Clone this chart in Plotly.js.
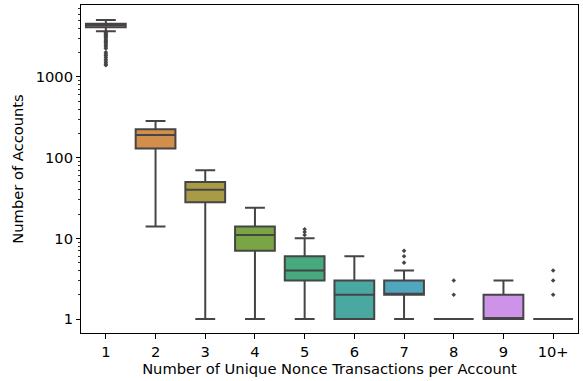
<!DOCTYPE html>
<html>
<head>
<meta charset="utf-8">
<script src="https://cdn.plot.ly/plotly-3.0.1.min.js"></script>
<style>html,body{margin:0;padding:0;background:#fff;}#chart{width:583px;height:381px;}</style>
</head>
<body>
<div id="chart"></div>
<script>
const categories = ['1','2','3','4','5','6','7','8','9','10+'];
const q1Values     = [4120, 130, 28, 7, 3, 1, 2, 1, 1, 1];
const medianValues = [4400, 191, 40, 11, 4, 2, 2, 1, 1, 1];
const q3Values     = [4560, 225, 50, 14, 6, 3, 3, 1, 2, 1];
const lowerWhisker = [3680, 14, 1, 1, 1, 1, 1, 1, 1, 1];
const upperWhisker = [5080, 285, 70, 24, 10, 6, 4, 1, 3, 1];
// outliers per category
const outlierCats = ['1','1','1','1','1','1','1','1','1','1','1','1','1','1','1','1','1','1','1','1','1','1','1','1',
                     '5','5','5','7','7','7','8','8','10+','10+','10+'];
const outlierVals = [3600,3500,3420,3330,3240,3150,3060,2960,2860,2760,2660,2560,2460,2360,2250,
                     2030,1930,1840,1750,1660,1580,1500,1440,1400,
                     11,12,13,5,6,7,2,3,2,3,4];
const colors = ['#e68294','#d28f4c','#a99a45','#7aa544','#47a97e','#49a8a0','#4fa6bd','#7fa0e3','#cd93e8','#e377c4'];

const lineColor = '#454545';
const traces = categories.map((c, i) => ({
  type: 'box',
  x: [c],
  q1: [q1Values[i]],
  median: [medianValues[i]],
  q3: [q3Values[i]],
  lowerfence: [lowerWhisker[i]],
  upperfence: [upperWhisker[i]],
  width: 0.8,
  whiskerwidth: 0.5,
  fillcolor: colors[i],
  line: {color: lineColor, width: 2},
  boxpoints: false,
  showlegend: false,
  hoverinfo: 'none'
}));
traces.push({
  type: 'scatter', mode: 'markers',
  x: outlierCats, y: outlierVals,
  marker: {symbol: 'diamond', size: 3.5, color: lineColor},
  showlegend: false, hoverinfo: 'none'
});

const minorVals = [];
[1,10,100,1000].forEach(d => { for (let k = 2; k <= 9; k++) minorVals.push(k*d); });

const font = {family: 'DejaVu Sans', size: 14.7, color: '#000'};
const layout = {
  width: 583, height: 381,
  margin: {l: 81, r: 5, t: 5, b: 48},
  paper_bgcolor: '#fff', plot_bgcolor: '#fff',
  font: font,
  xaxis: {
    type: 'category', categoryorder: 'array', categoryarray: categories,
    range: [-0.5, 9.5],
    showline: true, mirror: true, linecolor: '#000', linewidth: 1,
    ticks: 'outside', ticklen: 5, tickcolor: '#000', tickwidth: 1,
    showgrid: false, zeroline: false,
    tickfont: font,
    title: {text: 'Number of Unique Nonce Transactions per Account', font: font, standoff: 4}
  },
  yaxis: {
    type: 'log',
    range: [-0.173, 3.892],
    tickvals: [1, 10, 100, 1000], ticktext: ['1','10','100','1000'],
    showline: true, mirror: true, linecolor: '#000', linewidth: 1,
    ticks: 'outside', ticklen: 4, tickcolor: '#000', tickwidth: 1,
    minor: {tickmode: 'array', tickvals: minorVals, ticks: 'outside', ticklen: 2, tickcolor: '#000', tickwidth: 0.8, showgrid: false},
    showgrid: false, zeroline: false,
    tickfont: font,
    title: {text: 'Number of Accounts', font: font, standoff: 8}
  }
};
Plotly.newPlot('chart', traces, layout, {staticPlot: true, displayModeBar: false});
</script>
</body>
</html>
